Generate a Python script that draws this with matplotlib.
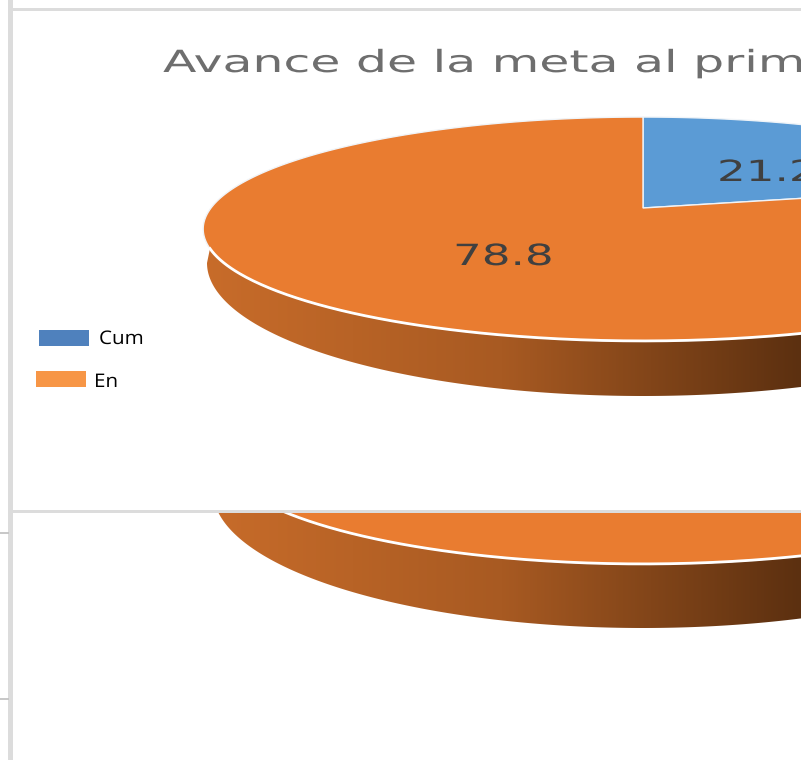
import matplotlib
matplotlib.use('Agg')  # no display
import matplotlib.pyplot as plt
import matplotlib.patheffects as pe
from matplotlib.colors import LinearSegmentedColormap
from matplotlib.patches import Polygon, Rectangle
from matplotlib.transforms import Affine2D
import numpy as np

title = "Avance de la meta al prim"
categories = ["Cum", "En"]
values = [21.2, 78.8]

blue = '#5b9bd5'
orange = '#e97c30'
border = '#dcdcdc'
tilt = 0.1875  # perspective of the 3D pie

wall_cmap = LinearSegmentedColormap.from_list('wall', ['#c86c2a', '#a85a22', '#5c3010'])


class StretchX(pe.AbstractPathEffect):
    # the picture has its text pulled wide, keep it real text and scale on draw
    def __init__(self, sx, x0):
        super().__init__()
        self.sx = sx
        self.x0 = x0

    def draw_path(self, renderer, gc, tpath, affine, rgbFace=None):
        stretch = Affine2D().translate(-self.x0, 0).scale(self.sx, 1).translate(self.x0, 0)
        renderer.draw_path(gc, tpath, affine + stretch, rgbFace)


def disc_points(theta, cx, cy, rx, ry):
    # theta runs clockwise from the back of the disc
    u, v = np.sin(theta), np.cos(theta)
    w = 1 + tilt * v
    return cx + rx * u / w, cy - ry * v / w


def draw_pie(ax, cy, rx, bottom, z):
    cx = 643
    ry = 108
    start = np.arccos(-tilt) + 0.17
    front = np.linspace(start, 2 * np.pi - start, 300)
    fx, fy = disc_points(front, cx, cy, rx, ry)

    # bottom edge of the side wall is its own, deeper ellipse
    b_cy, b_rx, b_ry = bottom
    t = np.linspace(-np.pi / 2, np.pi / 2, 300)
    bx = cx + b_rx * np.sin(t)
    by = b_cy + b_ry * np.cos(t)

    wall = np.column_stack([np.r_[fx, bx], np.r_[fy, by]])
    clip = Polygon(wall, closed=True, transform=ax.transData, fc='none', ec='none')
    ax.add_patch(clip)
    grad = np.linspace(0, 1, 256).reshape(1, -1)
    img = ax.imshow(grad, cmap=wall_cmap, aspect='auto', zorder=z,
                    extent=[203, 801, by.max(), fy.min()])
    img.set_clip_path(clip)

    # slices, clockwise from the top
    edges = np.cumsum([0] + values) / sum(values) * 2 * np.pi
    for i, color in enumerate([blue, orange]):
        a = np.linspace(edges[i], edges[i + 1], 300)
        x, y = disc_points(a, cx, cy, rx, ry)
        pts = np.column_stack([np.r_[cx, x], np.r_[cy, y]])
        ax.add_patch(Polygon(pts, closed=True, fc=color, ec='#f0f4f8', lw=1.0, zorder=z + 1))
    # white rim where the top meets the wall
    ax.plot(fx, fy, color='white', lw=2, zorder=z + 2)


fig = plt.figure(figsize=(8.01, 7.6), dpi=100)
ax = fig.add_axes([0, 0, 1, 1])

# chart underneath, only its lower part shows
draw_pie(ax, 431, 417, (491, 430, 137), 3)

# frame of the lower sheet
ax.add_patch(Rectangle((8, -5), 5, 775, fc=border, ec='none', zorder=6))
for y in [533, 699]:
    ax.plot([0, 8], [y, y], color='#bdbdbd', lw=1.2, zorder=6)

# top chart box covers the one below
ax.add_patch(Rectangle((13, 10), 800, 500, fc='white', ec='none', zorder=7))
ax.add_patch(Rectangle((8, 8), 800, 2.5, fc=border, ec='none', zorder=7))
ax.add_patch(Rectangle((13, 509.5), 800, 3, fc=border, ec='none', zorder=7))

draw_pie(ax, 208, 432, (263, 436, 133), 8)

# title and data labels
ax.text(163, 72, title, fontsize=22, color='#6e6e6e', family='DejaVu Sans',
        va='baseline', ha='left', zorder=12, path_effects=[StretchX(1.6, 163)])
ax.text(717, 181, str(values[0]), fontsize=21, color='#404040', family='DejaVu Sans',
        va='baseline', ha='left', zorder=12, path_effects=[StretchX(1.55, 717)])
ax.text(453, 265, str(values[1]), fontsize=21, color='#404040', family='DejaVu Sans',
        va='baseline', ha='left', zorder=12, path_effects=[StretchX(1.55, 453)])

# legend swatches, placed by hand as in the picture
ax.add_patch(Rectangle((39, 330), 50, 16, fc='#4f81bd', ec='none', zorder=12))
ax.add_patch(Rectangle((36, 371), 50, 16, fc='#f79646', ec='none', zorder=12))
ax.text(99, 339, categories[0], fontsize=13.5, color='black', family='Open Sans',
        va='center', ha='left', zorder=12, path_effects=[StretchX(1.1, 99)])
ax.text(94, 382, categories[1], fontsize=13.5, color='black', family='Open Sans',
        va='center', ha='left', zorder=12, path_effects=[StretchX(1.1, 94)])

ax.set_xlim(0, 801)
ax.set_ylim(760, 0)
ax.axis('off')
fig.savefig('out.png', dpi=100, facecolor='white')
